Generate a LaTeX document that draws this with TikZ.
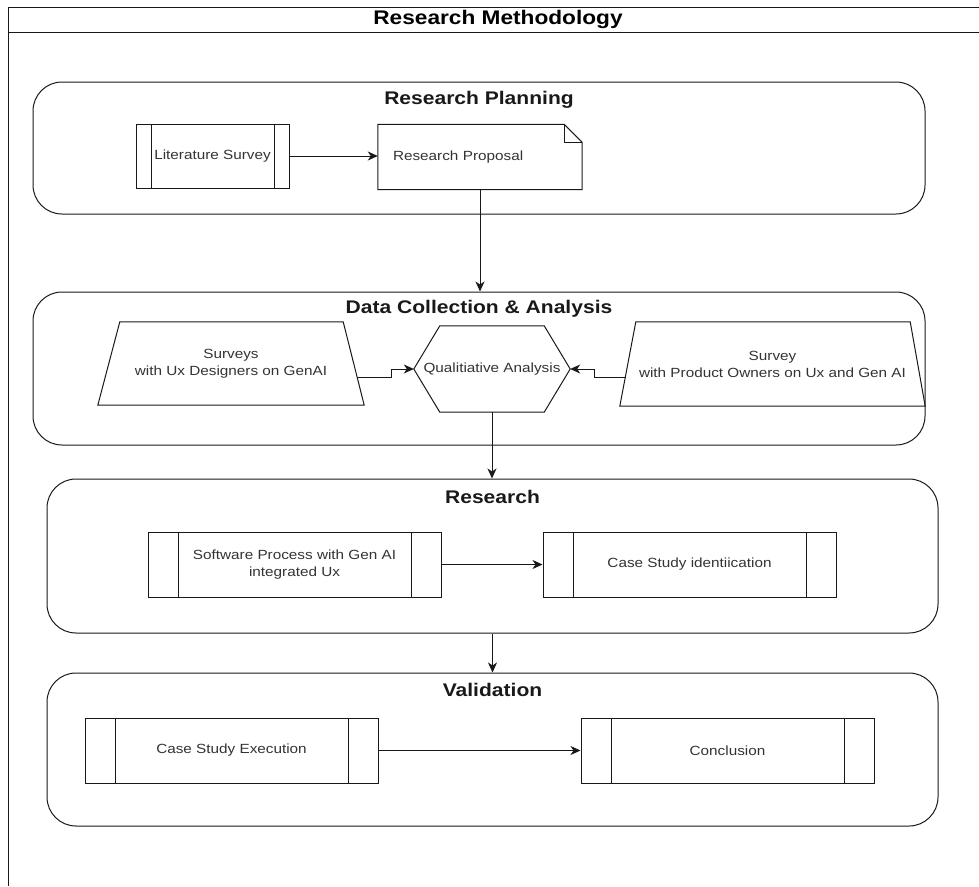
\documentclass[tikz,border=0pt]{standalone}
\usepackage{fontspec}
\setmainfont[FakeStretch=1.15]{Liberation Sans}
\usetikzlibrary{arrows.meta,calc}
\begin{document}
\begin{tikzpicture}[x=1pt,y=-1pt,
  line join=miter,
  ln/.style={draw=black!90, line width=1pt},
  arr/.style={ln, -{Stealth[length=10pt,width=9pt,inset=3pt]}},
  grp/.style={ln, rounded corners=29pt, inner sep=0pt},
  btitle/.style={inner sep=0pt, font=\fontsize{18.3}{22}\selectfont\bfseries, text=black!90},
  txt/.style={inner sep=0pt, font=\fontsize{13.3}{17}\selectfont, text=black!80, align=center},
  proc/.style={ln, rectangle, inner sep=0pt, font=\fontsize{13.3}{17}\selectfont, text=black!80, align=center,
    path picture={
      \draw[black!90, line width=1pt] ([xshift=#1]path picture bounding box.north west) -- ([xshift=#1]path picture bounding box.south west);
      \draw[black!90, line width=1pt] ([xshift=-#1]path picture bounding box.north east) -- ([xshift=-#1]path picture bounding box.south east);
    }},
]
\useasboundingbox (0,0) rectangle (979,886);

% outer frame
\draw[ln] (8,886) -- (8,7) -- (979,7);
\draw[ln] (8,32) -- (979,32);
\node[inner sep=0pt, font=\fontsize{19.7}{23}\selectfont\bfseries] (title) at (498,19) {Research Methodology};

% group boxes
\node[grp, minimum width=892, minimum height=132] (b1) at (479,148) {};
\node[grp, minimum width=892, minimum height=153] (b2) at (479,368.5) {};
\node[grp, minimum width=891, minimum height=154] (b3) at (492.5,556) {};
\node[grp, minimum width=891, minimum height=153] (b4) at (492.5,749.5) {};

\node[btitle] (t1) at (479,100) {Research Planning};
\node[btitle] (t2) at (479,309) {Data Collection \& Analysis};
\node[btitle] (t3) at (492.5,497) {Research};
\node[btitle] (t4) at (492.5,690) {Validation};

% Research Planning
\node[proc=15pt, minimum width=153, minimum height=64] (lit) at (212.5,156) {Literature Survey};
\node[inner sep=0pt, minimum width=204, minimum height=65, text width=174, inner xsep=15pt, align=left,
      font=\fontsize{13.3}{17}\selectfont, text=black!80] (p) at (480,157) {Research Proposal};
\draw[ln] (p.north west) -- ([xshift=-18pt]p.north east) -- ([yshift=-18pt]p.north east) -- (p.south east) -- (p.south west) -- cycle;
\draw[ln] ([xshift=-18pt]p.north east) -- ([xshift=-18pt,yshift=-18pt]p.north east) -- ([yshift=-18pt]p.north east);
\draw[arr] (lit.east) -- (lit.east -| p.west);

% Data Collection
\node[txt, minimum width=266, minimum height=83] (s1) at (231,363.5) {Surveys\\with Ux Designers on GenAI};
\draw[ln] ([xshift=22pt]s1.north west) -- ([xshift=-21pt]s1.north east) -- (s1.south east) -- (s1.south west) -- cycle;
\node[txt, minimum width=156, minimum height=86] (q) at (492,369) {Qualitiative Analysis};
\draw[ln] (q.west) -- ([xshift=26pt]q.north west) -- ([xshift=-26pt]q.north east) -- (q.east) -- ([xshift=-26pt]q.south east) -- ([xshift=26pt]q.south west) -- cycle;
\node[txt, minimum width=305, minimum height=84] (s2) at (772.5,364) {Survey\\with Product Owners on Ux and Gen AI};
\draw[ln] ([xshift=16pt]s2.north west) -- ([xshift=-15pt]s2.north east) -- (s2.south east) -- (s2.south west) -- cycle;
\coordinate (s1o) at (357,377);
\coordinate (s2o) at (625.5,377);
\draw[arr] (s1o) -- ++(34,0) |- (q.west);
\draw[arr] (s2o) -- ++(-31.5,0) |- (q.east);

% Research
\node[proc=30pt, minimum width=293, minimum height=65] (sw) at (294.5,564.5) {Software Process with Gen AI\\integrated Ux};
\node[proc=30pt, minimum width=293, minimum height=65] (csi) at (689.5,564.5) {Case Study identiication};
\draw[arr] (sw.east) -- (csi.west);

% Validation
\node[proc=30pt, minimum width=293, minimum height=65] (cse) at (231.5,750.5) {Case Study Execution};
\node[proc=30pt, minimum width=293, minimum height=65] (con) at (727.5,750.5) {Conclusion};
\draw[arr] (cse.east) -- (con.west);

% vertical connectors
\draw[arr] (p.south) -- (p.south |- b2.north);
\draw[arr] (q.south) -- (q.south |- b3.north);
\draw[arr] (b3.south) -- (b4.north);
\end{tikzpicture}
\end{document}
